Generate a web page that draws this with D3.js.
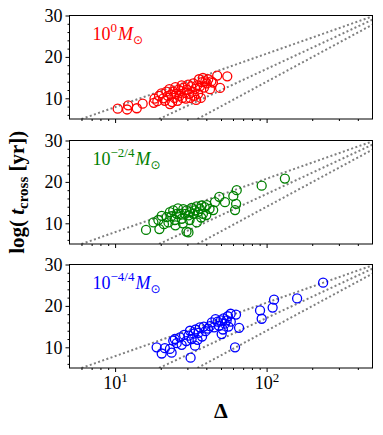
<!DOCTYPE html>
<html>
<head>
<meta charset="utf-8">
<script src="https://cdn.jsdelivr.net/npm/d3@7"></script>
<style>
  body { margin: 0; background: #fff; }
  text { font-family: "Liberation Serif", "DejaVu Serif", serif; }
</style>
</head>
<body>
<div id="chart"></div>
<script>
// <<< Data >>>
// each point is [Delta, log t_cross]
const redPoints = [
  [10.4,7.5],[12.0,7.3],[12.2,8.3],[13.9,7.6],[15.2,8.7],[18.0,8.9],[18.2,9.9],[19.0,9.3],
  [19.5,10.6],[20.2,11.2],[20.8,10.0],[21.3,9.4],[21.8,11.6],[22.3,10.6],[22.8,12.2],[23.0,8.6],
  [23.4,10.9],[23.8,9.1],[24.2,11.6],[24.6,10.1],[25.0,12.7],[25.3,11.1],[25.8,9.4],[26.2,12.1],
  [26.6,10.6],[27.0,11.8],[27.5,13.1],[27.8,10.1],[28.3,12.6],[28.8,11.3],[29.3,9.9],[29.8,12.1],
  [30.3,13.3],[30.8,11.1],[31.3,10.1],[31.8,12.9],[32.3,11.6],[32.8,13.6],[33.3,10.6],[33.8,12.3],
  [34.3,9.6],[34.8,13.1],[35.3,11.1],[35.8,14.6],[36.3,12.9],[36.8,10.1],[37.5,13.9],[38.0,14.9],
  [38.6,12.6],[39.4,14.1],[40.3,13.6],[41.2,14.6],[42.3,12.2],[43.2,14.1],[44.2,13.8],[47.2,15.5],
  [49.3,12.5],[55.0,15.3]
];
const greenPoints = [
  [16.0,8.4],[17.9,10.2],[19.3,10.8],[19.6,8.6],[20.3,11.8],[21.0,9.8],[21.9,11.5],[22.5,10.2],
  [23.0,12.7],[23.5,11.7],[24.2,13.1],[24.8,10.8],[25.0,9.5],[25.5,12.3],[26.0,13.6],[26.8,12.3],
  [27.5,11.1],[28.0,10.0],[28.2,13.4],[29.0,12.3],[29.6,8.0],[29.7,13.1],[30.5,7.8],[30.5,11.9],
  [31.0,10.8],[31.2,12.7],[32.0,13.7],[32.8,12.3],[33.5,13.1],[34.5,14.1],[34.6,10.2],[35.2,12.7],
  [36.3,13.5],[37.0,11.4],[37.2,14.3],[38.0,12.3],[39.0,13.9],[40.0,12.0],[40.3,14.4],[42.0,13.5],
  [44.4,13.2],[45.6,15.1],[48.7,16.4],[53.1,15.1],[60.3,16.6],[61.9,13.2],[62.9,14.7],[63.5,18.0],
  [92.8,19.1],[132,20.8]
];
const bluePoints = [
  [18.8,10.0],[20.3,8.5],[21.3,9.8],[23.0,9.6],[23.6,8.7],[24.2,11.6],[24.8,12.0],[25.5,11.0],
  [26.8,12.4],[27.5,10.6],[28.5,13.0],[29.5,11.5],[30.5,12.8],[31.2,14.0],[31.5,7.5],[32.0,12.0],
  [33.0,13.3],[33.7,10.4],[34.0,14.3],[35.0,11.8],[35.5,13.5],[36.3,14.8],[37.5,12.6],[38.5,15.0],
  [39.5,13.9],[41.0,14.5],[42.3,15.1],[43.5,16.0],[45.0,14.8],[46.0,16.8],[47.5,16.2],[48.5,15.2],
  [50.0,16.5],[50.5,13.2],[51.5,14.3],[52.0,17.0],[53.0,15.7],[54.5,16.5],[55.5,17.5],[56.0,15.0],
  [57.9,18.1],[58.0,16.2],[61.9,10.0],[62.8,17.9],[65.8,14.7],[90.5,18.9],[92.8,16.9],[109.6,19.6],
  [112,21.5],[159,21.8],[236,25.6]
];

const panelExponents = ["0", "\u22122/4", "\u22124/4"];
const panelColors = ["red", "green", "blue"];

// dotted guides: start (Delta, t) and end (Delta, t)
const guideStart = [[6.0,5],[19.5,5],[35,5]];
const guideEnd = [[500,29.8],[500,29.0],[500,27.8]];

const xDomain = [5, 500];
const yDomain = [5, 30];
const xMajor = [10, 100];
const xMinor = [6,7,8,9,20,30,40,50,60,70,80,90,200,300,400];
const yMajor = [10, 20, 30];
const yMinor = [6,8,12,14,16,18,22,24,26,28];

//<<< Layout >>>
const W = 383, H = 435;
const left = 69.5, right = 372.5;
const panelTops = [15.5, 140.5, 264.5];
const panelH = 103.5;

const svg = d3.select("#chart").append("svg")
  .attr("width", W).attr("height", H);

const x = d3.scaleLog().domain(xDomain).range([0, right - left]);
const y = d3.scaleLinear().domain(yDomain).range([panelH, 0]);

svg.append("defs").append("clipPath").attr("id", "clip")
  .append("rect").attr("width", right - left).attr("height", panelH);

const allPoints = [redPoints, greenPoints, bluePoints];
const guides = guideStart.map((s, i) => [s, guideEnd[i]]);

allPoints.forEach(function(pts, p) {
  const g = svg.append("g").attr("transform", "translate(" + left + "," + panelTops[p] + ")");

  // guide lines
  g.append("g").attr("clip-path", "url(#clip)")
    .selectAll("path").data(guides).enter().append("path")
    .attr("fill", "none")
    .attr("stroke", "#808080")
    .attr("stroke-width", 2)
    .attr("stroke-dasharray", "2,2.4")
    .attr("d", d3.line().x(d => x(d[0])).y(d => y(d[1])));

  // scatter
  g.append("g").selectAll("circle").data(pts).enter().append("circle")
    .attr("cx", d => x(d[0]))
    .attr("cy", d => y(d[1]))
    .attr("r", 4.5)
    .attr("fill", "none")
    .attr("stroke", panelColors[p])
    .attr("stroke-width", 1.3);

  // y axis, majors + minors
  const ya = g.append("g").call(d3.axisLeft(y).tickValues(yMajor).tickSize(4).tickPadding(3));
  ya.select(".domain").remove();
  ya.selectAll("text").attr("font-size", 18).attr("font-family", "Liberation Serif").attr("fill", "#000");
  const ym = g.append("g").call(d3.axisLeft(y).tickValues(yMinor).tickSize(2).tickFormat(""));
  ym.select(".domain").remove();

  // x axis
  const xa = g.append("g").attr("transform", "translate(0," + panelH + ")")
    .call(d3.axisBottom(x).tickValues(xMajor).tickSize(4).tickPadding(4));
  xa.select(".domain").remove();
  const xm = g.append("g").attr("transform", "translate(0," + panelH + ")")
    .call(d3.axisBottom(x).tickValues(xMinor).tickSize(2).tickFormat(""));
  xm.select(".domain").remove();

  if (p == 2) {
    xa.selectAll(".tick text").text(null)
      .attr("font-size", 18).attr("font-family", "Liberation Serif").attr("fill", "#000")
      .each(function(d) {
        const t = d3.select(this);
        t.append("tspan").text("10");
        t.append("tspan").attr("font-size", 13).attr("dy", -7).text(Math.round(Math.log10(d)));
      });
  } else {
    xa.selectAll(".tick text").remove();
  }

  // frame
  g.append("rect")
    .attr("width", right - left).attr("height", panelH)
    .attr("fill", "none").attr("stroke", "#000").attr("stroke-width", 1);

  // mass label
  const lab = g.append("text")
    .attr("x", 23).attr("y", 24.5)
    .attr("font-size", 18)
    .attr("fill", panelColors[p]);
  lab.append("tspan").text("10");
  lab.append("tspan").attr("font-size", 13).attr("dy", -8).text(panelExponents[p]);
  lab.append("tspan").attr("font-style", "italic").attr("dy", 8).attr("dx", 1).text("M");
  lab.append("tspan").attr("font-size", 12).attr("dy", 4).attr("font-family", "DejaVu Sans").text("\u2299");
});

// y label
const yl = svg.append("text")
  .attr("transform", "translate(24," + (panelTops[1] + panelH / 2) + ") rotate(-90)")
  .attr("text-anchor", "middle")
  .attr("font-size", 21)
  .attr("font-weight", "bold");
yl.append("tspan").text("log( ");
yl.append("tspan").attr("font-style", "italic").text("t");
yl.append("tspan").attr("font-size", 15).attr("dy", 4).text("cross");
yl.append("tspan").attr("dy", -4).text(" [yr])");

// x label
svg.append("text")
  .attr("x", (left + right) / 2).attr("y", 418)
  .attr("text-anchor", "middle")
  .attr("font-size", 22)
  .attr("font-weight", "bold")
  .text("\u0394");
</script>
</body>
</html>
